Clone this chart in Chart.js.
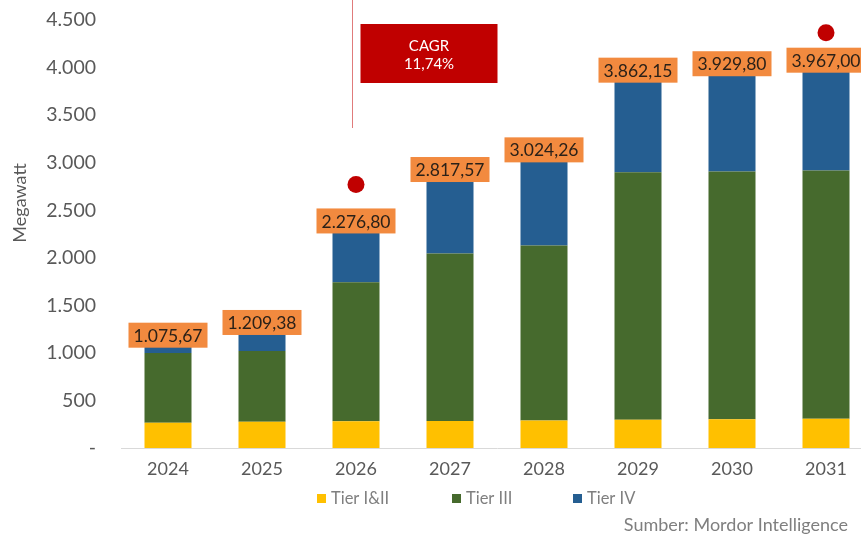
<!DOCTYPE html>
<html>
<head>
<meta charset="utf-8">
<script src="https://cdn.jsdelivr.net/npm/chart.js@4.4.1/dist/chart.umd.min.js"></script>
<style>
  html, body { margin: 0; padding: 0; overflow: hidden; background: #fff; }
  #wrap { position: relative; width: 880px; height: 536px; }
</style>
</head>
<body>
<div id="wrap"><canvas id="myChart"></canvas></div>
<script>
var years = ["2024", "2025", "2026", "2027", "2028", "2029", "2030", "2031"];
var tier12 = [265, 275, 280, 285, 290, 297, 303, 308];
var tier3 = [735, 745, 1462, 1761, 1840, 2603, 2604, 2609];
var tier4 = [75.67, 189.38, 534.8, 771.57, 894.26, 962.15, 1022.8, 1050];
var totals = [1075.67, 1209.38, 2276.8, 2817.57, 3024.26, 3862.15, 3929.8, 3967.0];
var dots = [null, null, 2770, null, null, null, null, 4365];
var seriesNames = ["Tier I&II", "Tier III", "Tier IV"];
var seriesColors = ["#FFC000", "#466A2D", "#255E91"];
var cagrText = ["CAGR", "11,74%"];
var sourceText = "Sumber: Mordor Intelligence";

var FONT = "Lato, 'Open Sans', sans-serif";

function fmt(v, dec) {
  var s = v.toFixed(dec);
  var parts = s.split(".");
  var ip = parts[0].replace(/\B(?=(\d{3})+(?!\d))/g, ".");
  return dec ? ip + "," + parts[1] : ip;
}

var extras = {
  id: "extras",
  afterDatasetsDraw: function (chart) {
    var ctx = chart.ctx;
    var x = chart.scales.x;
    var top4 = chart.getDatasetMeta(2);
    ctx.save();
    // total labels
    ctx.font = "17.5px " + FONT;
    ctx.textAlign = "center";
    ctx.textBaseline = "middle";
    for (var i = 0; i < totals.length; i++) {
      var bar = top4.data[i];
      var txt = fmt(totals[i], 2);
      var w = ctx.measureText(txt).width + 10;
      var h = 25;
      var bx = bar.x - w / 2, by = bar.y + 2 - h;
      ctx.fillStyle = "#F28A3F";
      ctx.fillRect(bx, by, w, h);
      ctx.fillStyle = "#2b2118";
      ctx.fillText(txt, bar.x, by + h / 2 + 1);
    }
    // dots on top
    var dm = chart.getDatasetMeta(3);
    ctx.fillStyle = "#C00000";
    dm.data.forEach(function (p, j) {
      if (dots[j] == null) return;
      ctx.beginPath();
      ctx.arc(p.x, p.y, 8.5, 0, Math.PI * 2);
      ctx.fill();
    });
    // CAGR marker
    var lx = Math.round(x.getPixelForValue(2)) - 4 + 0.5;
    ctx.strokeStyle = "#E07B7B";
    ctx.lineWidth = 1;
    ctx.beginPath();
    ctx.moveTo(lx, 0);
    ctx.lineTo(lx, 128);
    ctx.stroke();
    ctx.fillStyle = "#C00000";
    ctx.fillRect(lx + 8, 24, 137, 59);
    ctx.fillStyle = "#ffffff";
    ctx.font = "15px " + FONT;
    ctx.fillText(cagrText[0], lx + 8 + 68.5, 46);
    ctx.fillText(cagrText[1], lx + 8 + 68.5, 64);
    // y title
    ctx.save();
    ctx.translate(20, 203);
    ctx.rotate(-Math.PI / 2);
    ctx.fillStyle = "#595959";
    ctx.font = "18px " + FONT;
    ctx.textAlign = "center";
    ctx.fillText("Megawatt", 0, 0);
    ctx.restore();
    // legend
    var lgX = [317, 452, 573];
    ctx.font = "16.5px " + FONT;
    ctx.textAlign = "left";
    for (var k = 0; k < 3; k++) {
      ctx.fillStyle = seriesColors[k];
      ctx.fillRect(lgX[k], 494, 9, 9);
      ctx.fillStyle = "#7f7f7f";
      ctx.fillText(seriesNames[k], lgX[k] + 14, 499);
    }
    // source
    ctx.textAlign = "right";
    ctx.font = "18px " + FONT;
    ctx.fillText(sourceText, 848, 525);
    ctx.restore();
  }
};

var ctx = document.getElementById("myChart").getContext("2d");
var myChart = new Chart(ctx, {
  type: "bar",
  data: {
    labels: years,
    datasets: [
      { label: seriesNames[0], data: tier12, backgroundColor: seriesColors[0] },
      { label: seriesNames[1], data: tier3, backgroundColor: seriesColors[1] },
      { label: seriesNames[2], data: tier4, backgroundColor: seriesColors[2] },
      { type: "line", label: "dot", data: dots, stack: "dots", showLine: false, pointRadius: 0, borderWidth: 0 }
    ]
  },
  options: {
    responsive: true,
    maintainAspectRatio: false,
    animation: false,
    categoryPercentage: 1,
    barPercentage: 0.5,
    layout: { padding: { top: 20, right: 7, left: 0, bottom: 0 } },
    plugins: { legend: { display: false }, tooltip: { enabled: false } },
    scales: {
      x: {
        stacked: true,
        grid: { display: false, drawTicks: false },
        border: { display: true, color: "#d9d9d9", width: 1 },
        ticks: { color: "#595959", font: { family: FONT, size: 18 }, padding: 10 },
        afterFit: function (s) { s.height = 88; }
      },
      y: {
        stacked: true,
        min: 0,
        max: 4500,
        grid: { display: false, drawTicks: false },
        border: { display: false },
        ticks: {
          stepSize: 500,
          color: "#595959",
          font: { family: FONT, size: 19.5 },
          padding: 25,
          callback: function (v) { return v === 0 ? "-" : fmt(v, 0); }
        },
        afterFit: function (s) { s.width = 121; s.paddingTop = 0; s.paddingBottom = 0; }
      }
    }
  },
  plugins: [extras]
});
</script>
</body>
</html>
